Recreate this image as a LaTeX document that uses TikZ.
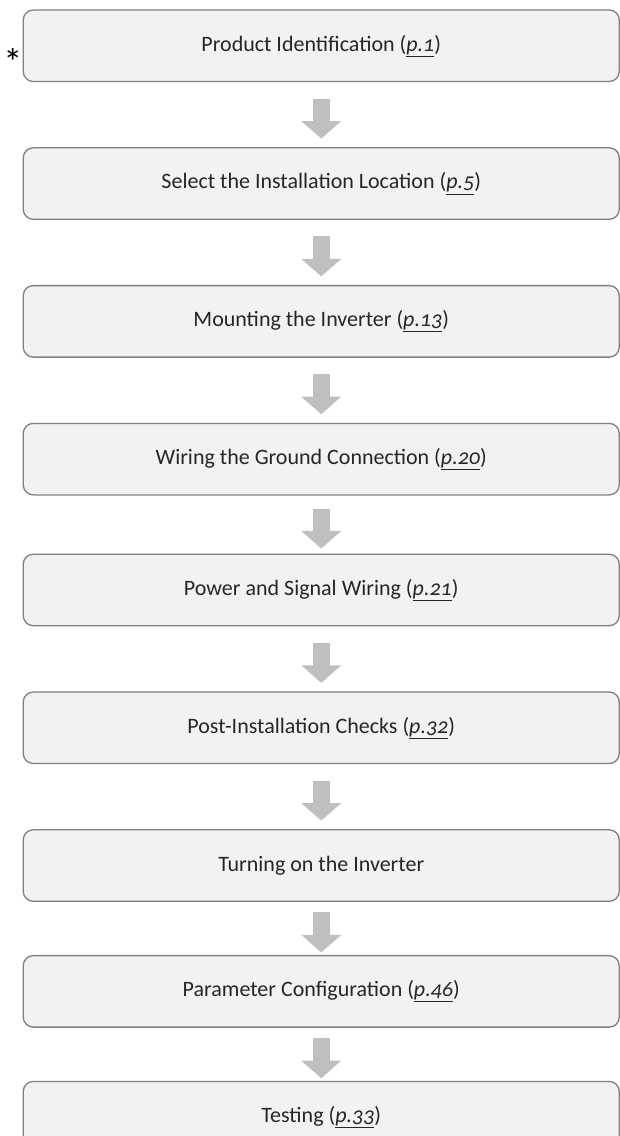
\documentclass[tikz,border=0pt]{standalone}
\usepackage{fontspec}
\setmainfont{Carlito}[Numbers=OldStyle]
\usepackage{xcolor}
\usepackage{tikz}
\usetikzlibrary{positioning}
\usetikzlibrary{arrows.meta}
\definecolor{boxgray}{HTML}{F2F2F2}
\definecolor{edgegray}{HTML}{7F7F7F}
\definecolor{arrowgray}{HTML}{BFBFBF}
\tikzset {
  % one step of the installation procedure
  stepbox/.style = {draw=edgegray, fill=boxgray, line width=1.3pt, rounded corners=10pt,
    minimum width=596pt, minimum height=71.5pt, inner sep=0pt,
    font=\fontsize{22}{26}\selectfont, text=black!85},
  % thick grey arrow from one step to the next
  flow/.style = {arrowgray, line width=17pt, -{Triangle[width=39pt, length=17.6pt]}},
}
\newcommand{\pg}[1]{%
  (\underline{\textit{p.#1}})%
}

\begin{document}
\begin{tikzpicture}[x=1pt, y=1pt]
        \useasboundingbox (0,0) rectangle (620,-1136);
        \node[stepbox] (b1) at (321.25,-45.75) {Product Identification \pg{1}};
        \node[stepbox] (b2) [below=65pt of b1] {Select the Installation Location \pg{5}};
        \node[stepbox] (b3) [below=65pt of b2] {Mounting the Inverter \pg{13}};
        \node[stepbox] (b4) [below=65pt of b3] {Wiring the Ground Connection \pg{20}};
        \node[stepbox] (b5) [below=58pt of b4] {Power and Signal Wiring \pg{21}};
        \node[stepbox] (b6) [below=65pt of b5] {Post-Installation Checks \pg{32}};
        \node[stepbox] (b7) [below=65pt of b6] {Turning on the Inverter};
        \node[stepbox] (b8) [below=53pt of b7] {Parameter Configuration \pg{46}};
        \node[stepbox] (b9) [below=53pt of b8] {Testing \pg{33}};
        \node[font=\fontsize{38}{38}\selectfont, inner sep=0pt] (star) [left=0pt of b1.west, yshift=-16pt] {*};

        \foreach \a/\b/\s/\e in {b1/b2/16.5pt/8.5pt, b2/b3/16.5pt/8.5pt, b3/b4/16.5pt/8.5pt,
            b4/b5/13pt/5pt, b5/b6/16.5pt/8.5pt, b6/b7/16.5pt/8.5pt,
            b7/b8/10.5pt/2.5pt, b8/b9/10.5pt/2.5pt}
          \draw[flow, shorten <=\s, shorten >=\e] (\a) -- (\b);
      \end{tikzpicture}
\end{document}
